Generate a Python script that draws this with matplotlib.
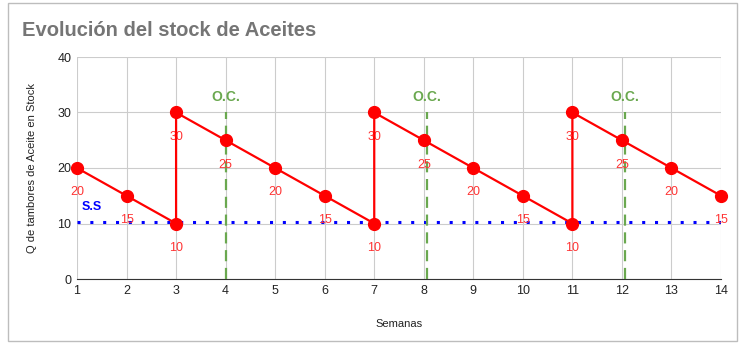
import matplotlib.pyplot as plt
from matplotlib.patches import Rectangle

# sawtooth stock series
semanas = [1, 2, 3, 3, 4, 5, 6, 7, 7, 8, 9, 10, 11, 11, 12, 13, 14]
stock = [20, 15, 10, 30, 25, 20, 15, 10, 30, 25, 20, 15, 10, 30, 25, 20, 15]
stock_seguridad = 10.2
ordenes = [4.0, 8.07, 12.06]
oc_top = 30

plt.rcParams['font.family'] = ['Arial', 'Liberation Sans', 'DejaVu Sans']

fig = plt.figure(figsize=(7.42, 3.48), dpi=100)
fig.patch.set_facecolor('white')
ax = fig.add_axes([77/742, 1 - 279/348, 644/742, 222/348])

# spreadsheet frame around chart
fig.patches.append(Rectangle((8/742, 7/348), 729/742, 338/348, transform=fig.transFigure,
                             fill=False, edgecolor='#bdbdbd', linewidth=1))

ax.set_xlim(1, 14)
ax.set_ylim(0, 40)
ax.set_xticks(range(1, 15))
ax.set_yticks(range(0, 41, 10))
ax.grid(True, color='#cccccc', linewidth=0.8)
ax.set_axisbelow(True)
ax.tick_params(length=0, labelsize=9, colors='#222222', pad=4)
for s in ['left', 'right', 'top']:
    ax.spines[s].set_visible(False)
ax.spines['bottom'].set_color('#333333')

ax.axhline(stock_seguridad, color='#0000ff', linestyle=(0, (1, 3.2)), linewidth=2.2, zorder=2)
ax.text(1.1, 13, 'S.S', color='#0000ff', fontsize=9, fontweight='bold', va='center')

for x in ordenes:
    ax.plot([x, x], [0, oc_top], color='#6aa84f', linestyle=(0, (5, 3)), linewidth=1.6, zorder=3)
    ax.text(x, 32.8, 'O.C.', color='#6aa84f', fontsize=10, fontweight='bold', ha='center', va='center')

ax.plot(semanas, stock, color='#ff0000', linewidth=1.6, marker='o', markersize=8.5, zorder=4, clip_on=False)
for x, y in zip(semanas, stock):
    ax.annotate(str(y), (x, y), xytext=(0, -17.5), textcoords='offset points', ha='center',
                va='center', color='#ff3333', fontsize=9)

ax.set_xlabel('Semanas', fontsize=8, color='#222222', labelpad=16)
ax.set_ylabel('Q de tambores de Aceite en Stock', fontsize=8, color='#222222', labelpad=15)
fig.text(22/742, 1 - 30/348, 'Evolución del stock de Aceites', fontsize=14.5, fontweight='bold',
         color='#757575', va='center')

fig.savefig('out.png', dpi=100)
